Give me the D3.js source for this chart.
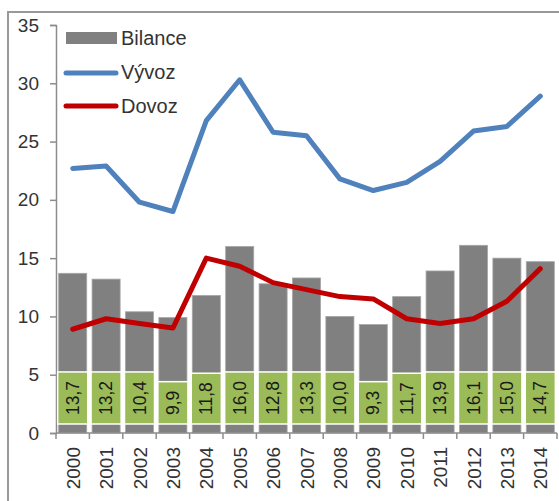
<!DOCTYPE html>
<html>
<head>
<meta charset="utf-8">
<script src="https://cdnjs.cloudflare.com/ajax/libs/d3/7.8.5/d3.min.js"></script>
<style>
    body { margin: 0; background: #fff; }
    svg { display: block; font-family: "Liberation Sans", Arial, sans-serif; }
</style>
</head>
<body>
<div id="chart"></div>
<script>
/*global d3 */
var years = ["2000", "2001", "2002", "2003", "2004", "2005", "2006", "2007",
             "2008", "2009", "2010", "2011", "2012", "2013", "2014"];
var bilance = [13.7, 13.2, 10.4, 9.9, 11.8, 16.0, 12.8, 13.3, 10.0, 9.3, 11.7, 13.9, 16.1, 15.0, 14.7];
var vyvoz = [22.7, 22.9, 19.8, 19.0, 26.8, 30.3, 25.8, 25.5, 21.8, 20.8, 21.5, 23.3, 25.9, 26.3, 28.9];
var dovoz = [8.9, 9.8, 9.4, 9.0, 15.0, 14.3, 12.9, 12.3, 11.7, 11.5, 9.8, 9.4, 9.8, 11.3, 14.1];
var yTicks = [0, 5, 10, 15, 20, 25, 30, 35];
var legendNames = ["Bilance", "Vývoz", "Dovoz"];

(function () {
    'use strict';
    var W = 559, H = 501,
        left = 56, right = 557, top = 25, bottom = 433,
        axisColor = "#8c8c8c",
        textColor = "#333",
        svg = d3.select("#chart").append("svg").attr("width", W).attr("height", H);

    // outer frame (runs off the right/bottom edge like the screenshot)
    svg.append("path")
        .attr("d", "M8," + (H + 5) + "V12H" + (W + 5))
        .attr("fill", "none").attr("stroke", "#999").attr("stroke-width", 2);

    var x = d3.scaleBand().domain(years).range([left, right]),
        y = d3.scaleLinear().domain([0, 35]).range([bottom, top]),
        step = x.step(),
        barW = step * 0.84,
        boxW = step * 0.9;

    // bars
    svg.append("g").selectAll("rect").data(bilance).enter().append("rect")
        .attr("x", function (d, i) { return x(years[i]) + (step - barW) / 2; })
        .attr("y", function (d) { return y(d); })
        .attr("width", barW)
        .attr("height", function (d) { return y(0) - y(d); })
        .attr("fill", "#808080")
        .attr("stroke", "#a6a6a6").attr("stroke-width", 0.8);

    // y axis
    var yAxis = svg.append("g").attr("transform", "translate(" + left + ",0)")
        .call(d3.axisLeft(y).tickValues(yTicks).tickSize(6).tickPadding(11));
    yAxis.select(".domain").attr("stroke", axisColor).attr("stroke-width", 1.5);
    yAxis.selectAll(".tick line").attr("stroke", axisColor).attr("stroke-width", 1.5);
    yAxis.selectAll("text").attr("font-size", 19).attr("fill", textColor)
        .attr("font-family", "Liberation Sans, Arial, sans-serif");

    // x axis with ticks between categories
    var xg = svg.append("g");
    xg.append("line").attr("x1", left).attr("x2", right).attr("y1", bottom).attr("y2", bottom)
        .attr("stroke", axisColor).attr("stroke-width", 1.5);
    xg.selectAll("line.tk").data(years.concat(["end"])).enter().append("line")
        .attr("class", "tk")
        .attr("x1", function (d, i) { return i < years.length ? x(d) : right; })
        .attr("x2", function (d, i) { return i < years.length ? x(d) : right; })
        .attr("y1", bottom).attr("y2", bottom + 6)
        .attr("stroke", axisColor).attr("stroke-width", 1.5);
    xg.selectAll("text").data(years).enter().append("text")
        .attr("transform", function (d) {
            return "translate(" + (x(d) + step / 2 + 7) + "," + (bottom + 14) + ") rotate(-90)";
        })
        .attr("text-anchor", "end")
        .attr("font-size", 19).attr("fill", textColor)
        .text(function (d) { return d; });

    // lines
    var line = function (vals) {
        return d3.line()
            .x(function (d, i) { return x(years[i]) + step / 2; })
            .y(function (d) { return y(d); })(vals);
    };
    svg.append("path").attr("d", line(vyvoz)).attr("fill", "none")
        .attr("stroke", "#4F81BD").attr("stroke-width", 5)
        .attr("stroke-linejoin", "round").attr("stroke-linecap", "round");
    svg.append("path").attr("d", line(dovoz)).attr("fill", "none")
        .attr("stroke", "#C00000").attr("stroke-width", 5)
        .attr("stroke-linejoin", "round").attr("stroke-linecap", "round");

    // data labels in green boxes
    var lab = svg.append("g").selectAll("g").data(bilance).enter().append("g");
    lab.each(function (d, i) {
        var g = d3.select(this),
            cx = x(years[i]) + step / 2,
            boxBottom = bottom - 9,
            txt = d.toFixed(1).replace(".", ","),
            rect = g.append("rect"),
            t = g.append("text").attr("font-size", 17.5).attr("fill", "#1a1a1a")
                .attr("text-anchor", "middle").text(txt),
            len = t.node().getComputedTextLength(),
            boxH = len + 18;
        rect.attr("x", cx - boxW / 2).attr("y", boxBottom - boxH)
            .attr("width", boxW).attr("height", boxH)
            .attr("fill", "#9BBB59").attr("stroke", "#fff").attr("stroke-width", 1.5);
        t.attr("transform", "translate(" + (cx + 6) + "," + (boxBottom - boxH / 2) + ") rotate(-90)");
    });

    // legend
    var lg = svg.append("g");
    lg.append("rect").attr("x", 66).attr("y", 32).attr("width", 51).attr("height", 12).attr("fill", "#808080");
    lg.append("line").attr("x1", 66).attr("x2", 116).attr("y1", 73).attr("y2", 73)
        .attr("stroke", "#4F81BD").attr("stroke-width", 5).attr("stroke-linecap", "round");
    lg.append("line").attr("x1", 66).attr("x2", 116).attr("y1", 106).attr("y2", 106)
        .attr("stroke", "#C00000").attr("stroke-width", 5).attr("stroke-linecap", "round");
    lg.selectAll("text").data(legendNames).enter().append("text")
        .attr("x", 121).attr("y", function (d, i) { return 45 + i * 34; })
        .attr("font-size", 20).attr("fill", textColor)
        .text(function (d) { return d; });
}());
</script>
</body>
</html>
